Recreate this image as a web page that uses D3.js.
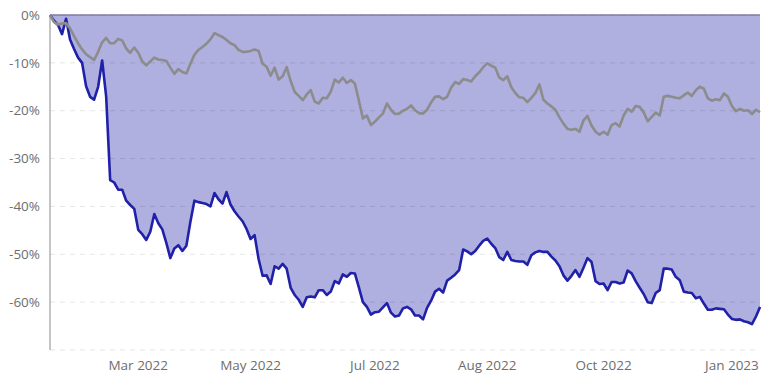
<!DOCTYPE html>
<html lang="en">
<head>
  <meta charset="UTF-8">
  <title>Drawdown</title>
  <script src="https://d3js.org/d3.v7.min.js"></script>
  <style>
    body { background: #fff; margin: 0; }
    svg { display: block; }
    .tick-label { font-family: "Open Sans", "Noto Sans", sans-serif; font-size: 13.5px; fill: #6e6e6e; }
    .grid { stroke: rgba(0,0,0,0.1); stroke-dasharray: 5,5; stroke-width: 1; }
  </style>
</head>
<body>
  <svg width="761" height="375"></svg>

  <script>
    // drawdown of the strategy (blue, filled) and of the benchmark (gray), in %
    const strategy = [
      0, -1.2, -2.1, -4, -0.8, -5.1, -7.1, -8.9, -10, -14.9,
      -17.1, -17.7, -15, -9.5, -17, -34.5, -35, -36.5, -36.5, -38.8,
      -39.7, -40.5, -44.9, -45.8, -47, -45.3, -41.6, -43.5, -44.8, -47.6,
      -50.8, -48.8, -48.1, -49.3, -48.2, -43.2, -38.8, -39.1, -39.3, -39.5,
      -40, -37.2, -38.5, -39.4, -37, -39.6, -41, -42.1, -43.1, -44.7,
      -46.8, -46, -51, -54.5, -54.4, -56.2, -52.5, -53, -52, -53,
      -57, -58.5, -59.5, -61, -59, -58.8, -59, -57.5, -57.5, -58.5,
      -57.8, -55.6, -56.1, -54.2, -54.7, -53.9, -54, -56.9, -60, -61,
      -62.6, -62.1, -62, -61.1, -60.2, -62.2, -63, -62.8, -61.3, -61,
      -61.5, -62.8, -62.8, -63.6, -61.2, -59.7, -57.8, -57.2, -58, -55.5,
      -54.9, -54.2, -53.3, -49, -49.4, -50, -49.3, -48.2, -47.2, -46.7,
      -47.8, -48.7, -50.6, -51.2, -49.5, -51.2, -51.4, -51.5, -51.5, -52.2,
      -50.2, -49.6, -49.3, -49.5, -49.5, -50.5, -51.3, -52.5, -54.4, -55.5,
      -54.5, -53.3, -54.7, -52.8, -50.8, -51.6, -55.6, -56.2, -56.1, -57.5,
      -55.8, -55.8, -56.1, -55.9, -53.4, -54, -55.6, -57, -58.3, -60,
      -60.2, -58.1, -57.5, -53, -53, -53.2, -54.7, -55.4, -57.8, -58,
      -58.1, -59.2, -58.9, -60.3, -61.6, -61.6, -61.3, -61.4, -61.5, -62.6,
      -63.5, -63.7, -63.6, -64, -64.2, -64.6, -63, -61
    ];
    const benchmark = [
      0, -1.5, -2, -1.8, -1.7, -2.8, -4.4, -5.9, -7.2, -8.2,
      -8.8, -9.4, -7.7, -5.7, -4.8, -5.9, -5.9, -5, -5.3, -7,
      -7.9, -6.8, -7.9, -9.7, -10.5, -9.7, -8.9, -9.3, -9.4, -9.6,
      -11, -12.3, -11.3, -11.9, -12.2, -10.2, -8.3, -7.3, -6.7, -6,
      -5.1, -3.8, -4.2, -4.6, -5.2, -5.9, -6.3, -7.3, -7.7, -7.7,
      -7.5, -7.2, -7.5, -10.2, -10.8, -12.7, -11, -13.5, -12.8, -10.9,
      -13.8, -16.1, -16.9, -17.8, -16.6, -15.7, -18.1, -18.5, -17.3, -17.4,
      -16, -13.5, -14.1, -13.1, -14.2, -13.6, -14.3, -17.9, -21.6, -21,
      -23, -22.3, -21.4, -20.6, -18.5, -19.8, -20.7, -20.6, -20, -19.6,
      -18.9, -19.9, -20.5, -20.6, -19.8, -18.3, -17.1, -17, -17.6, -17.1,
      -15.2, -14, -14.4, -13.4, -13.6, -13.9, -12.8, -12, -10.9, -10.1,
      -10.6, -11, -13.1, -13.6, -12.8, -15.1, -16.3, -17.2, -17.3, -18.2,
      -17.3, -16.3, -14.5, -17.7, -18.5, -19.1, -19.8, -21.4, -22.7, -23.8,
      -24, -23.8, -24.4, -22, -21.1, -23.1, -24.4, -25, -24.4, -25,
      -23, -22.6, -23.3, -21, -19.6, -20.2, -19, -19.2, -20.3, -22.2,
      -21.3, -20.4, -21, -17.1, -16.9, -17.1, -17.3, -17.4, -16.8, -16.2,
      -16.9, -15.7, -15, -15.4, -17.4, -17.9, -17.6, -17.8, -16.4, -17.1,
      -19, -20.1, -19.6, -20, -19.9, -20.7, -19.8, -20.3
    ];
    const xTickLabels = ["Mar 2022", "May 2022", "Jul 2022", "Aug 2022", "Oct 2022", "Jan 2023"];
    const xTickIndex = [22, 50, 81, 109, 138, 170];
    const yTicks = [0, -10, -20, -30, -40, -50, -60];
    const yGrid = [0, -10, -20, -30, -40, -50, -60, -70];

    const svg = d3.select("svg");
    const plotLeft = 50, plotRight = 760, plotTop = 15, plotBottom = 350;

    const x = d3.scaleLinear().domain([0, strategy.length - 1]).range([plotLeft, plotRight]);
    const y = d3.scaleLinear().domain([-70, 0]).range([plotBottom, plotTop]);

    // filled area between zero and the strategy drawdown
    svg.append("path")
      .datum(strategy)
      .attr("fill", "#afafe0")
      .attr("d", d3.area().x((d, i) => x(i)).y0(y(0)).y1(d => y(d)));

    // dashed grid
    svg.append("g")
      .selectAll("line")
      .data(yGrid)
      .join("line")
      .attr("class", "grid")
      .attr("x1", plotLeft)
      .attr("x2", plotRight)
      .attr("y1", d => y(d))
      .attr("y2", d => y(d));

    const line = d3.line().x((d, i) => x(i)).y(d => y(d));

    svg.append("path")
      .datum(strategy)
      .attr("fill", "none")
      .attr("stroke", "#2020a8")
      .attr("stroke-width", 2.6)
      .attr("stroke-linejoin", "round")
      .attr("d", line);

    svg.append("path")
      .datum(benchmark)
      .attr("fill", "none")
      .attr("stroke", "#8c8c8c")
      .attr("stroke-width", 2.6)
      .attr("stroke-linejoin", "round")
      .attr("d", line);

    // zero line and left axis
    svg.append("line")
      .attr("x1", plotLeft).attr("x2", plotRight)
      .attr("y1", y(0)).attr("y2", y(0))
      .attr("stroke", "#7c7ca4")
      .attr("stroke-width", 1.5);

    svg.append("line")
      .attr("x1", plotLeft).attr("x2", plotLeft)
      .attr("y1", plotTop).attr("y2", plotBottom)
      .attr("stroke", "#8a8a8a")
      .attr("stroke-width", 1);

    // y labels
    svg.append("g")
      .selectAll("text")
      .data(yTicks)
      .join("text")
      .attr("class", "tick-label")
      .attr("x", 40)
      .attr("y", d => y(d))
      .attr("dy", "0.35em")
      .attr("text-anchor", "end")
      .text(d => d + "%");

    // x labels
    svg.append("g")
      .selectAll("text")
      .data(xTickLabels)
      .join("text")
      .attr("class", "tick-label")
      .attr("x", (d, i) => x(xTickIndex[i]))
      .attr("y", plotBottom + 15)
      .attr("dy", "0.35em")
      .attr("text-anchor", "middle")
      .text(d => d);
  </script>
</body>
</html>
